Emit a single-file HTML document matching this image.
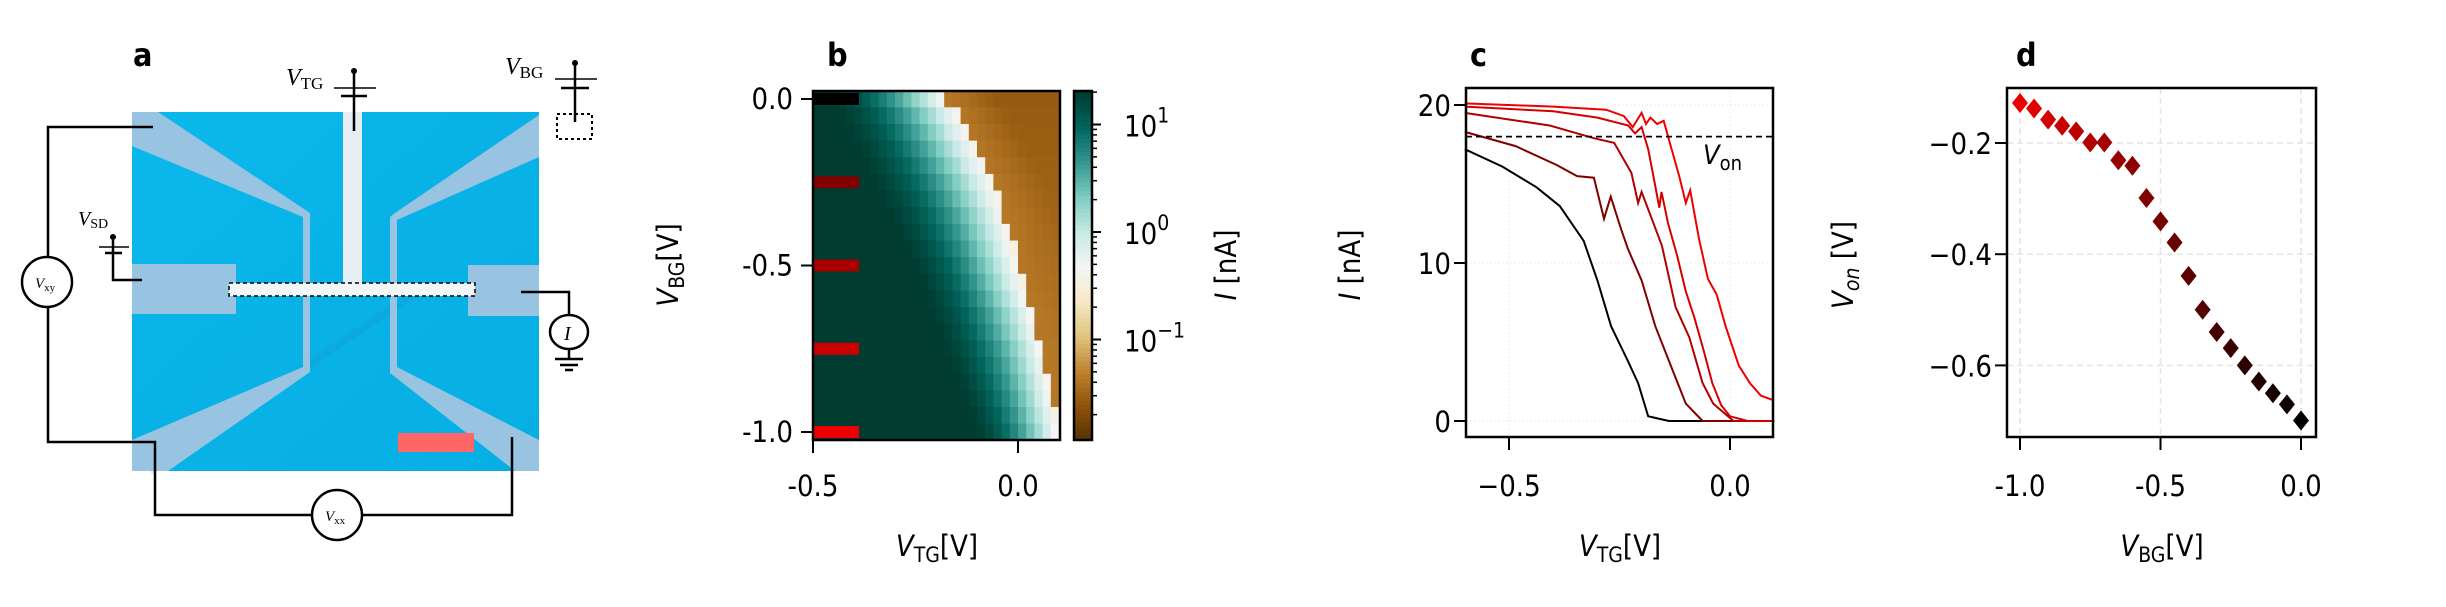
<!DOCTYPE html>
<html><head><meta charset="utf-8"><style>
html,body{margin:0;padding:0;background:#fff;}
svg text{font-family:"DejaVu Sans Condensed","DejaVu Sans","Liberation Sans",sans-serif;fill:#000;}
</style></head><body>
<svg id="fig" xmlns="http://www.w3.org/2000/svg" width="2446" height="602" viewBox="0 0 2446 602">
<rect width="2446" height="602" fill="#fff"/>
<!-- Panel a -->
<g id="pa">
<text x="133" y="66" font-size="32" font-weight="bold">a</text>
<defs><linearGradient id="bg" x1="0" y1="0" x2="1" y2="1"><stop offset="0" stop-color="#0bb8ec"/><stop offset="0.5" stop-color="#08b2e6"/><stop offset="1" stop-color="#06aee4"/></linearGradient></defs>
<rect x="132" y="112" width="407" height="359" fill="url(#bg)"/>
<line x1="150" y1="471" x2="420" y2="290" stroke="#2a7fb8" stroke-width="8" opacity="0.15"/>
<g fill="#98c4e2">
<polygon points="132,112 158,112 310,213 310,367 303,367 303,217 132,146"/>
<polygon points="539,115 395,213 390,217 390,365 397,365 397,220 539,157"/>
<polygon points="303,360 310,360 310,372 168,471 132,471 132,440 303,367"/>
<polygon points="390,360 397,360 397,367 539,440 539,471 515,471 390,373"/>
<rect x="132" y="264" width="104" height="50"/>
<rect x="468" y="265" width="71" height="51"/>
</g>
<rect x="343" y="112" width="19" height="172" fill="#e6eef3"/>
<rect x="229" y="283" width="246" height="13" fill="#f2f6f8" stroke="#000" stroke-width="1.5" stroke-dasharray="4,3"/>
<rect x="398" y="433" width="76" height="19" fill="#ff6666"/>
<g stroke="#000" stroke-width="2.5" fill="none">
<polyline points="153,127 48,127 48,257"/>
<polyline points="48,307 48,442 155,442 155,515 312,515"/>
<polyline points="362,515 512,515 512,437"/>
<polyline points="521,292 569,292 569,315"/>
<line x1="569" y1="349" x2="569" y2="359"/>
<line x1="555" y1="359" x2="583" y2="359"/><line x1="560" y1="365" x2="578" y2="365"/><line x1="565" y1="370" x2="573" y2="370"/>
<polyline points="113,240 113,280 142,280"/>
<line x1="99" y1="247" x2="129" y2="247" stroke-width="1.5"/><line x1="105" y1="253" x2="122" y2="253"/>
<line x1="354" y1="71" x2="354" y2="131"/>
<line x1="334" y1="88" x2="376" y2="88" stroke-width="1.5"/><line x1="341" y1="96" x2="367" y2="96"/>
<line x1="575" y1="63" x2="575" y2="122"/>
<line x1="555" y1="79" x2="597" y2="79" stroke-width="1.5"/><line x1="561" y1="88" x2="589" y2="88"/>
<rect x="557" y="114" width="35" height="25" stroke-dasharray="3,3" stroke-width="2"/>
</g>
<circle cx="354" cy="71" r="3"/><circle cx="575" cy="63" r="3"/><circle cx="113" cy="237" r="3"/>
<g fill="#fff" stroke="#000" stroke-width="2.5">
<ellipse cx="47" cy="282" rx="25" ry="25"/>
<ellipse cx="337" cy="515" rx="25" ry="25"/>
<ellipse cx="569" cy="332" rx="19" ry="17"/>
</g>
<g>
<text x="286" y="85" font-size="24" font-style="italic" style="font-family:'Liberation Serif',serif">V<tspan font-size="17" font-style="normal" dy="4">TG</tspan></text>
<text x="505" y="74" font-size="24" font-style="italic" style="font-family:'Liberation Serif',serif">V<tspan font-size="17" font-style="normal" dy="4">BG</tspan></text>
<text x="78" y="225" font-size="20" font-style="italic" style="font-family:'Liberation Serif',serif">V<tspan font-size="14" font-style="normal" dy="3">SD</tspan></text>
<text x="35" y="288" font-size="15" font-style="italic" style="font-family:'Liberation Serif',serif">V<tspan font-size="11" font-style="normal" dy="3">xy</tspan></text>
<text x="325" y="521" font-size="15" font-style="italic" style="font-family:'Liberation Serif',serif">V<tspan font-size="11" font-style="normal" dy="3">xx</tspan></text>
<text x="564" y="340" font-size="20" font-style="italic" style="font-family:'Liberation Serif',serif">I</text>
</g>
</g>
<g id="pb"></g>
<g id="pc"></g>
<g id="pd"></g>
</svg>
<script>
// ---------- Panel b data ----------
const hmVbg = [0,-0.05,-0.1,-0.15,-0.2,-0.25,-0.3,-0.35,-0.4,-0.45,-0.5,-0.55,-0.6,-0.65,-0.7,-0.75,-0.8,-0.85,-0.9,-0.95,-1.0];
const hmPinch = [-0.17,-0.14,-0.12,-0.10,-0.08,-0.06,-0.045,-0.03,-0.02,-0.01,0.0,0.012,0.025,0.04,0.05,0.062,0.07,0.078,0.085,0.092,0.1];
const hmOnset = [-0.46,-0.44,-0.42,-0.40,-0.38,-0.36,-0.34,-0.32,-0.30,-0.28,-0.26,-0.245,-0.23,-0.215,-0.2,-0.185,-0.17,-0.155,-0.14,-0.125,-0.11];
const hmVtg = [];
for (let i=0;i<30;i++) hmVtg.push(-0.5+0.02*i);
const cbTicks = [1,0,-1];
const markVbg = [0,-0.25,-0.5,-0.75,-1.0];
const markColors = ['#000000','#800000','#a80000','#cc0000','#ee0000'];
// ---------- Panel c data ----------
const cVtg0 = [-0.6,-0.515,-0.438,-0.385,-0.331,-0.30,-0.269,-0.231,-0.208,-0.185,-0.138,0.1];
const cI0 = [17.2,16.1,14.8,13.6,11.4,8.9,6.0,3.8,2.4,0.3,0,0];
const cVtg1 = [-0.6,-0.485,-0.392,-0.346,-0.308,-0.285,-0.27,-0.246,-0.231,-0.2,-0.169,-0.131,-0.1,-0.062,0.1];
const cI1 = [18.3,17.4,16.2,15.5,15.4,12.8,14.2,12.1,10.9,8.9,6.0,3.3,1.1,0,0];
const cVtg2 = [-0.6,-0.408,-0.308,-0.262,-0.223,-0.208,-0.2,-0.177,-0.154,-0.123,-0.092,-0.062,-0.038,0.008,0.1];
const cI2 = [19.5,18.7,17.9,17.6,15.7,13.8,14.5,12.8,11.1,7.2,5.3,2.4,1.1,0,0];
const cVtg3 = [-0.6,-0.4,-0.3,-0.23,-0.215,-0.2,-0.185,-0.17,-0.16,-0.155,-0.14,-0.12,-0.1,-0.08,-0.06,-0.04,-0.02,0.0,0.04,0.1];
const cI3 = [19.9,19.6,19.2,18.7,18.2,18.6,17.2,15.0,13.5,14.5,12.5,10.5,8.2,6.5,4.5,2.4,1.0,0.3,0,0];
const cVtg4 = [-0.6,-0.4,-0.28,-0.24,-0.22,-0.2,-0.19,-0.18,-0.165,-0.15,-0.135,-0.115,-0.1,-0.09,-0.07,-0.05,-0.03,-0.01,0.02,0.045,0.07,0.1];
const cI4 = [20.1,19.9,19.7,19.3,18.6,19.5,18.8,19.2,18.8,19.0,17.5,15.5,13.8,14.6,11.5,9.0,8.0,6.0,3.5,2.4,1.6,1.3];
const cColors = ['#000000','#800000','#b00000','#d40000','#ee0000'];
const cXTicks = [-0.5,0.0];
const cXTickLabels = ['\u22120.5','0.0'];
const cYTicks = [0,10,20];
const cThreshold = 18;
// ---------- Panel d data ----------
const dVbg = [-1.0,-0.95,-0.9,-0.85,-0.8,-0.75,-0.7,-0.65,-0.6,-0.55,-0.5,-0.45,-0.4,-0.35,-0.3,-0.25,-0.2,-0.15,-0.1,-0.05,0.0];
const dVon = [-0.128,-0.138,-0.158,-0.169,-0.179,-0.199,-0.199,-0.231,-0.241,-0.299,-0.341,-0.379,-0.439,-0.5,-0.54,-0.569,-0.6,-0.629,-0.65,-0.67,-0.699];
const dXTicks = [-1.0,-0.5,0.0];
const dXTickLabels = ['-1.0','-0.5','0.0'];
const dYTicks = [-0.2,-0.4,-0.6];
const dYTickLabels = ['\u22120.2','\u22120.4','\u22120.6'];

const NS='http://www.w3.org/2000/svg';
function mk(parent,tag,attrs,text){const e=document.createElementNS(NS,tag);for(const k in attrs)e.setAttribute(k,attrs[k]);if(text!==undefined)e.textContent=text;parent.appendChild(e);return e;}

const brbg=[[84,48,5],[140,81,10],[191,129,45],[223,194,125],[246,232,195],[245,245,245],[199,234,229],[128,205,193],[53,151,143],[1,102,94],[0,60,48]];
function cmap(t){t=Math.max(0,Math.min(1,t));const p=t*10,i=Math.min(9,Math.floor(p)),f=p-i;const a=brbg[i],b=brbg[i+1];return 'rgb('+a.map((v,k)=>Math.round(v+(b[k]-v)*f)).join(',')+')';}

// ---------- Panel b ----------
(function(){
const g=document.getElementById('pb');
const L=813,R=1060,T=91,B=440;
const xs=v=>L+(v+0.5)*410; const ys=v=>99+(-v)*333;
const lmin=-1.94,lmax=1.3;
mk(g,'text',{x:827,y:66,'font-size':32,'font-weight':'bold',},'b');
const cw=0.02*410, rh=0.05*333;
hmVbg.forEach((vb,r)=>{
  hmVtg.forEach((vt,c)=>{
    const on=hmOnset[r],pi=hmPinch[r];
    const xc=vt+0.01;
    let l;
    if(xc<on) l=1.3; else if(xc<pi){const f=(xc-on)/(pi-on);l=1.3-1.75*Math.pow(f,1.6);} else l=-1.35-0.2*Math.min(1,(xc-pi)/0.12)*(1+vb);
    const x0=xs(vt), y0=ys(vb)-rh/2;
    const cell=mk(g,'rect',{x:Math.max(L,x0).toFixed(2),y:Math.max(T,y0).toFixed(2),width:(Math.min(R,x0+cw)-Math.max(L,x0)+0.6).toFixed(2),height:(Math.min(B,y0+rh)-Math.max(T,y0)+0.6).toFixed(2),fill:cmap((l-lmin)/(lmax-lmin))});
    
    
  });
});
markVbg.forEach((v,i)=>{
  const m=mk(g,'rect',{x:L,y:ys(v)-6,width:46,height:12,fill:markColors[i]});
  
  
});
mk(g,'rect',{x:L,y:T,width:R-L,height:B-T,fill:'none',stroke:'#000','stroke-width':2.5});
[0,-0.5,-1.0].forEach((v,i)=>{mk(g,'line',{x1:L-12,x2:L,y1:ys(v),y2:ys(v),stroke:'#000','stroke-width':2});
  const t=mk(g,'text',{x:L-20,y:ys(v)+10,'font-size':29,'text-anchor':'end'},['0.0','-0.5','-1.0'][i]);});
[-0.5,0.0].forEach((v,i)=>{mk(g,'line',{x1:xs(v),x2:xs(v),y1:B,y2:B+13,stroke:'#000','stroke-width':2});
  const t=mk(g,'text',{x:xs(v),y:496,'font-size':29,'text-anchor':'middle'},['-0.5','0.0'][i]);});
const xl=mk(g,'text',{x:937,y:556,'font-size':29,'text-anchor':'middle'});xl.innerHTML='<tspan font-style="italic">V</tspan><tspan font-size="21" dy="6">TG</tspan><tspan dy="-6">[V]</tspan>';

const yl=mk(g,'text',{x:0,y:0,'font-size':29,'text-anchor':'middle',transform:'translate(678,265) rotate(-90)'});yl.innerHTML='<tspan font-style="italic">V</tspan><tspan font-size="21" dy="6">BG</tspan><tspan dy="-6">[V]</tspan>';

const cL=1074,cR=1092;
const cy=l=>232-l*107.5;
for(let k=0;k<80;k++){const y0=T+(B-T)*k/80;const l=lmax-(lmax-lmin)*k/80;mk(g,'rect',{x:cL,y:y0,width:cR-cL,height:(B-T)/80+0.8,fill:cmap((l-lmin)/(lmax-lmin))});}
mk(g,'rect',{x:cL,y:T,width:cR-cL,height:B-T,fill:'none',stroke:'#000','stroke-width':2.5,});
for(let d=-2;d<=1;d++){for(let m=1;m<10;m++){const l=d+Math.log10(m);const y=cy(l);if(y<T||y>B)continue;mk(g,'line',{x1:cR,x2:cR+(m===1?9:5),y1:y,y2:y,stroke:'#000','stroke-width':m===1?2:1.5});}}
cbTicks.forEach(l=>{const t=mk(g,'text',{x:1124,y:cy(l)+12,'font-size':29});t.innerHTML='10<tspan font-size="21" dy="-14">'+(l<0?'\u2212':'')+Math.abs(l)+'</tspan>';});
const cl=mk(g,'text',{x:0,y:0,'font-size':29,'text-anchor':'middle',transform:'translate(1236,265) rotate(-90)'});cl.innerHTML='<tspan font-style="italic">I</tspan> [nA]';

})();

// ---------- Panel c ----------
(function(){
const g=document.getElementById('pc');
const L=1466,R=1773,T=88,B=437;
const xs=v=>1730+v*442; const ys=v=>421-v*15.8;
mk(g,'text',{x:1470,y:66,'font-size':32,'font-weight':'bold',},'c');
cXTicks.forEach(v=>mk(g,'line',{x1:xs(v),x2:xs(v),y1:T,y2:B,stroke:'#eee','stroke-width':1,'stroke-dasharray':'2,2'}));
cYTicks.forEach(v=>mk(g,'line',{x1:L,x2:R,y1:ys(v),y2:ys(v),stroke:'#eee','stroke-width':1,'stroke-dasharray':'2,2'}));
const sets=[[cVtg0,cI0],[cVtg1,cI1],[cVtg2,cI2],[cVtg3,cI3],[cVtg4,cI4]];
sets.forEach((s,i)=>{const pts=s[0].map((v,k)=>xs(v).toFixed(1)+','+ys(s[1][k]).toFixed(1)).join(' ');
  const p=mk(g,'polyline',{points:pts,fill:'none',stroke:cColors[i],'stroke-width':2});
  
  });
const th=mk(g,'line',{x1:L,x2:R,y1:ys(cThreshold),y2:ys(cThreshold),stroke:'#000','stroke-width':1.8,'stroke-dasharray':'6,4'});

const vl=mk(g,'text',{x:1703,y:164,'font-size':27});vl.innerHTML='<tspan font-style="italic">V</tspan><tspan font-size="20" dy="6">on</tspan>';

mk(g,'rect',{x:L,y:T,width:R-L,height:B-T,fill:'none',stroke:'#000','stroke-width':2.5});
cYTicks.forEach(v=>{mk(g,'line',{x1:L-12,x2:L,y1:ys(v),y2:ys(v),stroke:'#000','stroke-width':2});
  const t=mk(g,'text',{x:L-15,y:ys(v)+11,'font-size':29,'text-anchor':'end'},String(v));});
cXTicks.forEach((v,i)=>{mk(g,'line',{x1:xs(v),x2:xs(v),y1:B,y2:B+13,stroke:'#000','stroke-width':2});
  const t=mk(g,'text',{x:xs(v),y:496,'font-size':29,'text-anchor':'middle'},cXTickLabels[i]);});
const xl=mk(g,'text',{x:1620,y:556,'font-size':29,'text-anchor':'middle'});xl.innerHTML='<tspan font-style="italic">V</tspan><tspan font-size="21" dy="6">TG</tspan><tspan dy="-6">[V]</tspan>';

const yl=mk(g,'text',{x:0,y:0,'font-size':29,'text-anchor':'middle',transform:'translate(1360,265) rotate(-90)'});yl.innerHTML='<tspan font-style="italic">I</tspan> [nA]';

})();

// ---------- Panel d ----------
(function(){
const g=document.getElementById('pd');
const L=2007,R=2316,T=88,B=437;
const xs=v=>2301+v*281; const ys=v=>143-(v+0.2)*556;
mk(g,'text',{x:2016,y:66,'font-size':32,'font-weight':'bold',},'d');
dXTicks.forEach(v=>mk(g,'line',{x1:xs(v),x2:xs(v),y1:T,y2:B,stroke:'#e4e4e4','stroke-width':1.5,'stroke-dasharray':'6,4'}));
dYTicks.forEach(v=>mk(g,'line',{x1:L,x2:R,y1:ys(v),y2:ys(v),stroke:'#e4e4e4','stroke-width':1.5,'stroke-dasharray':'6,4'}));
dVbg.forEach((vb,i)=>{const x=xs(vb),y=ys(dVon[i]);const t=-vb;
  const p=mk(g,'polygon',{points:`${x},${y-10} ${x+8},${y} ${x},${y+10} ${x-8},${y}`,fill:`rgb(${Math.round(235*t)},0,0)`});
  
  });
mk(g,'rect',{x:L,y:T,width:R-L,height:B-T,fill:'none',stroke:'#000','stroke-width':2.5});
dYTicks.forEach((v,i)=>{mk(g,'line',{x1:L-12,x2:L,y1:ys(v),y2:ys(v),stroke:'#000','stroke-width':2});
  const t=mk(g,'text',{x:L-15,y:ys(v)+11,'font-size':29,'text-anchor':'end'},dYTickLabels[i]);});
dXTicks.forEach((v,i)=>{mk(g,'line',{x1:xs(v),x2:xs(v),y1:B,y2:B+13,stroke:'#000','stroke-width':2});
  const t=mk(g,'text',{x:xs(v),y:496,'font-size':29,'text-anchor':'middle'},dXTickLabels[i]);});
const xl=mk(g,'text',{x:2162,y:556,'font-size':29,'text-anchor':'middle'});xl.innerHTML='<tspan font-style="italic">V</tspan><tspan font-size="21" dy="6">BG</tspan><tspan dy="-6">[V]</tspan>';

const yl=mk(g,'text',{x:0,y:0,'font-size':29,'text-anchor':'middle',transform:'translate(1853,265) rotate(-90)'});yl.innerHTML='<tspan font-style="italic">V<tspan font-size="21" dy="6">on</tspan></tspan><tspan dy="-6"> [V]</tspan>';

})();
</script>
</body></html>
